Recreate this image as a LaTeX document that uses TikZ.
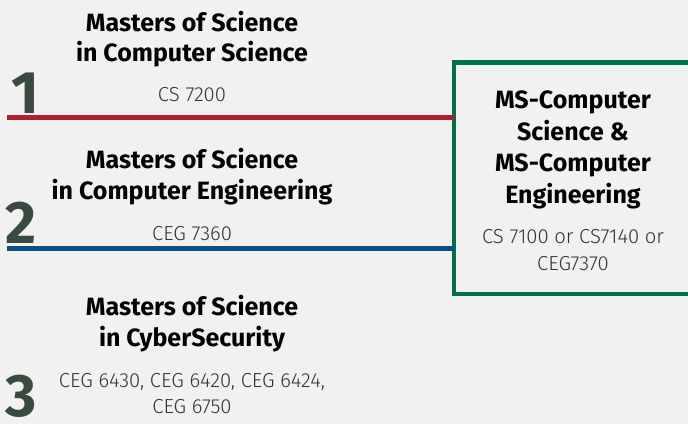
\documentclass[tikz,border=0pt]{standalone}
\usepackage{fontspec}
\setmainfont{Fira Sans}
\newfontfamily\lightfont{Fira Sans Light}
\definecolor{bgcol}{HTML}{F1F1F1}
\definecolor{csred}{HTML}{B01E2F}
\definecolor{cegblue}{HTML}{0A5086}
\definecolor{boxgreen}{HTML}{00714C}
\definecolor{digitcol}{HTML}{3A4A3F}
\definecolor{notecol}{HTML}{333333}
\tikzset{
  title/.style={anchor=base, inner sep=0pt, font=\fontsize{25}{30}\selectfont\bfseries, text=black},
  course/.style={anchor=base, inner sep=0pt, font=\fontsize{20.3}{26}\lightfont, text=notecol},
  numeral/.style={anchor=base west, inner sep=0pt, font=\fontsize{60}{64}\selectfont\bfseries, text=digitcol},
  track/.style={line width=4.8pt},
}
\begin{document}
\begin{tikzpicture}[x=1pt, y=-1pt]
  \fill[bgcol] (0,0) rectangle (688,424);
  \useasboundingbox (0,0) rectangle (688,424);
  \clip (0,0) rectangle (688,424);

  % track 1: computer science
  \node[title] (t1a) at (192,31.7) {Masters of Science};
  \node[title] (t1b) at (192,61.7) {in Computer Science};
  \node[course] (c1) at (192,101.7) {CS 7200};
  \node[numeral] (n1) at (11,113) {1};

  % track 2: computer engineering
  \node[title] (t2a) at (192,168.3) {Masters of Science};
  \node[title] (t2b) at (192,199) {in Computer Engineering};
  \node[course] (c2) at (192,240) {CEG 7360};
  \node[numeral] (n2) at (5,243) {2};

  % track 3: cybersecurity
  \node[title] (t3a) at (192,315) {Masters of Science};
  \node[title] (t3b) at (192,346.7) {in CyberSecurity};
  \node[course] (c3a) at (192,387) {CEG 6430, CEG 6420, CEG 6424,};
  \node[course] (c3b) at (192,413) {CEG 6750};
  \node[numeral] (n3) at (5,416.5) {3};

  % shared core box
  \draw[boxgreen, line width=4.8pt] (454,62.5) rectangle (720,294);
  \node[inner sep=0pt, minimum width=0pt] (core) at (454,178) {};
  \node[title] (b1) at (573,108) {MS-Computer};
  \node[title] (b2) at (573,140) {Science \&};
  \node[title] (b3) at (573,171.7) {MS-Computer};
  \node[title] (b4) at (573,203) {Engineering};
  \node[course] (b5) at (573,243) {CS 7100 or CS7140 or};
  \node[course] (b6) at (573,270) {CEG7370};

  % connectors into the box
  \coordinate (s1) at (7,117.5);
  \coordinate (s2) at (7,248.5);
  \draw[track, csred] (s1) -- (s1 -| core.west);
  \draw[track, cegblue] (s2) -- (s2 -| core.west);
\end{tikzpicture}
\end{document}
